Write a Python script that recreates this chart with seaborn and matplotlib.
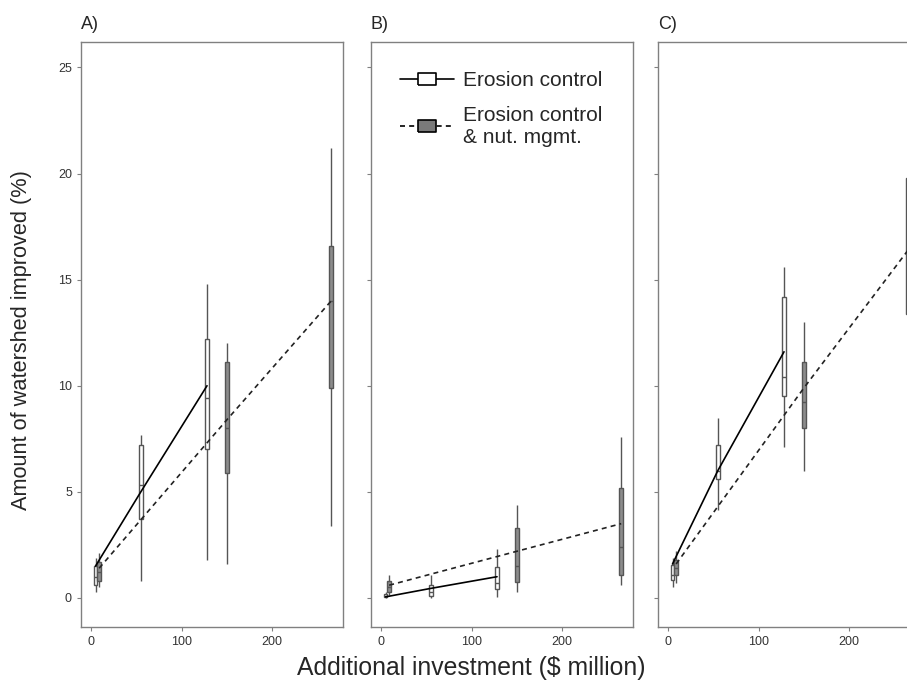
import numpy as np
import pandas as pd
import matplotlib.pyplot as plt
import seaborn as sns
from matplotlib.lines import Line2D

# investment levels ($ million) for each treatment
invest_ec = [5, 55, 128]
invest_ecn = [9, 150, 265]

panels = ['A)', 'B)', 'C)']
series = ['Erosion control', 'Erosion control\n& nut. mgmt.']

# five-number summaries per box: low whisker, q1, median, q3, high whisker
a_ec_lo = [0.3, 0.8, 1.8]
a_ec_q1 = [0.6, 3.7, 7.0]
a_ec_med = [1.0, 5.3, 9.4]
a_ec_q3 = [1.5, 7.2, 12.2]
a_ec_hi = [1.9, 7.7, 14.8]
a_ecn_lo = [0.5, 1.6, 3.4]
a_ecn_q1 = [0.8, 5.9, 9.9]
a_ecn_med = [1.2, 8.0, 14.0]
a_ecn_q3 = [1.7, 11.1, 16.6]
a_ecn_hi = [2.1, 12.0, 21.2]

b_ec_lo = [0.0, 0.0, 0.05]
b_ec_q1 = [0.05, 0.1, 0.4]
b_ec_med = [0.1, 0.3, 0.7]
b_ec_q3 = [0.2, 0.6, 1.45]
b_ec_hi = [0.3, 1.1, 2.3]
b_ecn_lo = [0.15, 0.3, 0.6]
b_ecn_q1 = [0.3, 0.75, 1.1]
b_ecn_med = [0.5, 1.5, 2.4]
b_ecn_q3 = [0.8, 3.3, 5.2]
b_ecn_hi = [1.1, 4.4, 7.6]

c_ec_lo = [0.5, 4.15, 7.1]
c_ec_q1 = [0.85, 5.6, 9.5]
c_ec_med = [1.1, 6.0, 10.4]
c_ec_q3 = [1.55, 7.2, 14.2]
c_ec_hi = [1.9, 8.5, 15.6]
c_ecn_lo = [0.7, 6.0, 11.1]
c_ecn_q1 = [1.1, 8.0, 13.4]
c_ecn_med = [1.4, 9.25, 16.4]
c_ecn_q3 = [1.8, 11.1, 19.8]
c_ecn_hi = [2.2, 13.0, 22.6]

# trend lines through each treatment
a_line_ec = [1.5, 5.0, 10.0]
a_line_ecn = [1.4, 8.4, 14.0]
b_line_ec = [0.05, 0.45, 1.0]
b_line_ecn = [0.6, 2.2, 3.5]
c_line_ec = [1.6, 6.0, 11.6]
c_line_ecn = [1.6, 9.9, 16.4]

summaries = {
    'A)': [(a_ec_lo, a_ec_q1, a_ec_med, a_ec_q3, a_ec_hi),
           (a_ecn_lo, a_ecn_q1, a_ecn_med, a_ecn_q3, a_ecn_hi)],
    'B)': [(b_ec_lo, b_ec_q1, b_ec_med, b_ec_q3, b_ec_hi),
           (b_ecn_lo, b_ecn_q1, b_ecn_med, b_ecn_q3, b_ecn_hi)],
    'C)': [(c_ec_lo, c_ec_q1, c_ec_med, c_ec_q3, c_ec_hi),
           (c_ecn_lo, c_ecn_q1, c_ecn_med, c_ecn_q3, c_ecn_hi)],
}
lines = {
    'A)': (a_line_ec, a_line_ecn),
    'B)': (b_line_ec, b_line_ecn),
    'C)': (c_line_ec, c_line_ecn),
}

rows = []
for p in panels:
    for s, xs, stats in zip(series, [invest_ec, invest_ecn], summaries[p]):
        for i, x in enumerate(xs):
            for arr in stats:
                rows.append({'panel': p, 'treatment': s, 'invest': x, 'value': arr[i]})
df = pd.DataFrame(rows)

sns.set_theme(style='ticks')
plt.rcParams['font.family'] = ['Liberation Sans', 'DejaVu Sans']

box_colors = {series[0]: 'white', series[1]: '#8c8c8c'}
dash = (0, (3, 2.5))

# rectangular legend marker, wider than tall
box_marker = [(-1.5, -0.95), (1.5, -0.95), (1.5, 0.95), (-1.5, 0.95), (-1.5, -0.95)]

fig = plt.figure(figsize=(9.07, 6.87), dpi=100)
W, H = 907, 687
lefts = [81, 371, 658]
for p, left in zip(panels, lefts):
    ax = fig.add_axes([left / W, (H - 627) / H, 262 / W, 585 / H])
    sub = df[df['panel'] == p]
    sns.boxplot(data=sub, x='invest', y='value', hue='treatment', hue_order=series,
                native_scale=True, dodge=False, whis=(0, 100), width=1.0,
                palette=box_colors, saturation=1, linecolor='#555555', linewidth=1,
                showcaps=False, legend=False, ax=ax)
    ec_line, ecn_line = lines[p]
    sns.lineplot(x=invest_ec, y=ec_line, color='black', linewidth=1.2, ax=ax, zorder=5)
    sns.lineplot(x=invest_ecn, y=ecn_line, color='#222222', linewidth=1.2,
                 linestyle=dash, ax=ax, zorder=5)
    ax.set_xlim(-11, 278)
    ax.set_ylim(-1.37, 26.2)
    ax.set_xticks([0, 100, 200])
    ax.set_xticklabels(['0', '100', '200'])
    ax.set_yticks([0, 5, 10, 15, 20, 25])
    if p != 'A)':
        ax.set_yticklabels([])
    ax.set_xlabel('')
    ax.set_ylabel('')
    for sp in ax.spines.values():
        sp.set_color('#808080')
        sp.set_linewidth(1)
    ax.tick_params(colors='#808080', labelcolor='#333333', labelsize=9, length=3, width=0.8)
    ax.text(0.0, 1.015, p, transform=ax.transAxes, fontsize=13, ha='left', va='bottom')

    if p == 'B)':
        h1 = Line2D([0], [0], color='black', linewidth=1.2, marker=box_marker, markersize=13,
                    markerfacecolor='white', markeredgecolor='black', markeredgewidth=1.2)
        h2 = Line2D([0], [0], color='black', linewidth=1.2, linestyle=dash,
                    marker=box_marker, markersize=13, markerfacecolor='#7a7a7a',
                    markeredgecolor='black', markeredgewidth=1.2)
        ax.legend([h1, h2], series, loc='upper left', frameon=False, fontsize=15,
                  handlelength=2.6, borderaxespad=1.0, labelspacing=0.75, handletextpad=0.4)

fig.text(22 / W, 1 - 340 / H, 'Amount of watershed improved (%)', rotation=90,
         ha='center', va='center', fontsize=15.7)
fig.text(471 / W, 1 - 668 / H, 'Additional investment ($ million)',
         ha='center', va='center', fontsize=17.8)

fig.savefig('out.png', dpi=100)
